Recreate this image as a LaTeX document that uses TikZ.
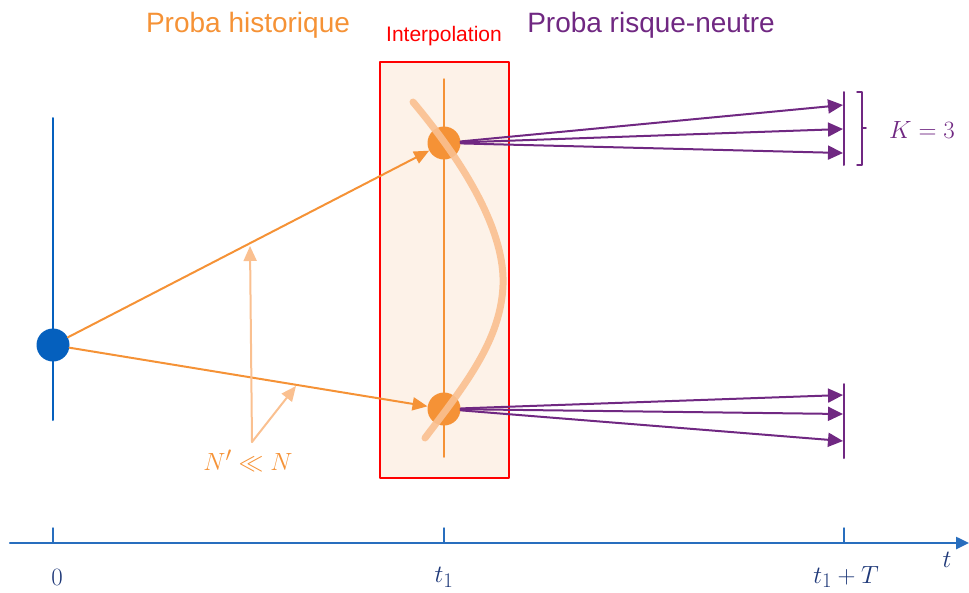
\documentclass[tikz,border=0pt]{standalone}
\usepackage{fontspec}
\newfontfamily\headfont{Liberation Sans}
\usetikzlibrary{arrows.meta}

\definecolor{histo}{RGB}{245,146,54}
\definecolor{histolight}{RGB}{250,192,144}
\definecolor{boxfill}{RGB}{253,242,232}
\definecolor{rnpurple}{RGB}{112,40,130}
\definecolor{dotblue}{RGB}{5,96,190}
\definecolor{axblue}{RGB}{40,110,190}
\definecolor{labblue}{RGB}{30,56,120}

\begin{document}
\begin{tikzpicture}[x=1pt,y=1pt,line cap=round,line join=round,
  head/.style={font=\headfont\fontsize{28}{30}\selectfont},
  mathlab/.style={font=\fontsize{24.88}{30}\selectfont},
  dot/.style={circle,inner sep=0pt,minimum size=33pt},
  wire/.style={line width=2pt},
  otip/.style={-{Triangle[length=15pt,width=13pt]}},
  ptip/.style={-{Triangle[length=15pt,width=14pt]}}]
  \useasboundingbox (0,0) rectangle (969,-592);
  % ---- titles --------------------------------------------------------------
  \node[head,text=histo] (hist) at (248,-25) {Proba historique};
  \node[font=\headfont\fontsize{21}{23}\selectfont,text=red] (interp) at (444,-36) {Interpolation};
  \node[head,text=rnpurple] (rn) at (651,-25) {Proba risque-neutre};
  % ---- interpolation box ---------------------------------------------------
  \draw[fill=boxfill,draw=red,line width=2.5pt] (380,-62) rectangle (509,-478);
  \draw[histo,line width=1.5pt] (444,-79) -- (444,-457);
  % ---- time axis -----------------------------------------------------------
  \coordinate (ax0) at (10,-543);
  \coordinate (ax1) at (969,-543);
  \draw[axblue,line width=2.5pt,-{Triangle[length=13pt,width=12pt]}] (ax0) -- (ax1);
  \foreach \x in {53,444,844}
    \draw[axblue,line width=1.5pt] (\x,-543) -- (\x,-528);
  \node[mathlab,text=labblue] (l0) at (57,-577) {$0$};
  \node[mathlab,text=labblue] (l1) at (444,-577) {$t_1$};
  \node[mathlab,text=labblue] (l2) at (846,-577) {$t_1+T$};
  \node[mathlab,text=labblue] (lt) at (947,-560) {$t$};
  % ---- start point ---------------------------------------------------------
  \draw[dotblue,wire] (53,-118) -- (53,-420);
  \node[dot,fill=dotblue] (s0) at (53,-345) {};
  % ---- points at t1 and interpolation curve --------------------------------
  \node[dot,fill=histo] (a1) at (444,-143) {};
  \node[dot,fill=histo] (a2) at (444,-409) {};
  \draw[histolight,line width=7pt,opacity=0.9]
    (413,-102) .. controls (470,-170) and (505,-235) .. (503,-285)
    .. controls (501,-340) and (465,-385) .. (425,-438);
  \draw[histo,wire,otip] (s0) -- (a1);
  \draw[histo,wire,otip] (s0) -- (a2);
  % ---- N' << N -------------------------------------------------------------
  \coordinate (nb) at (252,-442);
  \coordinate (nu) at (250,-246);
  \coordinate (nd) at (296,-386);
  \draw[histolight,wire,otip] (nb) -- (nu);
  \draw[histolight,wire,otip] (nb) -- (nd);
  \node[mathlab,text=histo] (nn) at (248,-461) {$N'\ll N$};
  % ---- risk-neutral paths --------------------------------------------------
  \foreach \y [count=\i] in {-105,-129,-153}
    \coordinate (u\i) at (843,\y);
  \foreach \y [count=\i] in {-395,-414,-441}
    \coordinate (d\i) at (843,\y);
  \foreach \i in {1,2,3} {
    \draw[rnpurple,wire,ptip] (a1) -- (u\i);
    \draw[rnpurple,wire,ptip] (a2) -- (d\i);
  }
  \draw[rnpurple,wire] (844,-92) -- (844,-165);
  \draw[rnpurple,wire] (844,-384) -- (844,-458);
  \draw[rnpurple,line width=1.5pt] (857,-92) -- (862,-92) -- (862,-165) -- (857,-165);
  \draw[rnpurple,line width=1.5pt] (862,-128) -- (866,-128);
  \node[mathlab,text=rnpurple] (kk) at (922,-130) {$K=3$};
\end{tikzpicture}
\end{document}
